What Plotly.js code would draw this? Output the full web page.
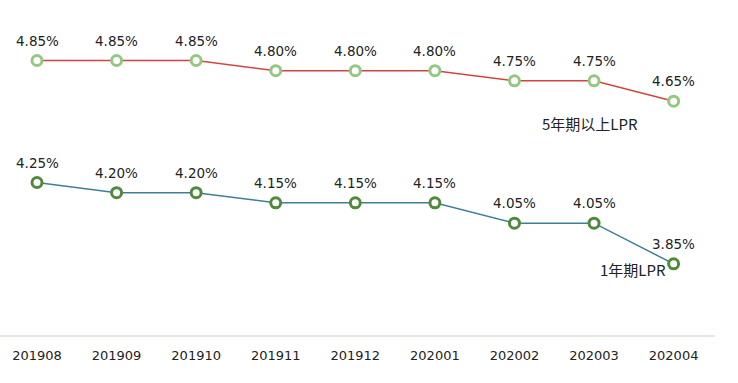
<!DOCTYPE html>
<html><head><meta charset="utf-8">
<script src="https://cdn.plot.ly/plotly-3.0.1.min.js"></script>
<style>html,body{margin:0;padding:0;background:#fff}#c{width:738px;height:383px}</style>
</head><body><div id="c"></div>
<script>
const months = ['201908','201909','201910','201911','201912','202001','202002','202003','202004'];
const lpr5y = [4.85,4.85,4.85,4.80,4.80,4.80,4.75,4.75,4.65];
const lpr1y = [4.25,4.20,4.20,4.15,4.15,4.15,4.05,4.05,3.85];
const name5y = '5年期以上LPR';
const name1y = '1年期LPR';
const fnt = 'DejaVu Sans, Noto Sans CJK SC, sans-serif';
const cjk = 'Noto Sans CJK SC, DejaVu Sans, sans-serif';
const idx = months.map((m,i)=>i);
const traces = [
  {x: idx, y: lpr5y, name: name5y, mode:'lines+markers', type:'scatter',
   line:{color:'#d0453f',width:1.5},
   marker:{size:10,color:'#ffffff',line:{color:'#93c882',width:3}}, cliponaxis:false},
  {x: idx, y: lpr1y, name: name1y, mode:'lines+markers', type:'scatter',
   line:{color:'#3d7f98',width:1.5},
   marker:{size:10,color:'#ffffff',line:{color:'#4f8a3c',width:3}}, cliponaxis:false}
];
const labelAnn = (arr) => arr.map((v,i)=>({x:i, y:v, xref:'x', yref:'y', text:v.toFixed(2)+'%',
  showarrow:false, yshift:20, font:{family:fnt,size:13.5,color:'#222'}}));
const layout = {
  width:738, height:383, margin:{l:0,r:23,t:30,b:48},
  paper_bgcolor:'#fff', plot_bgcolor:'#fff', showlegend:false,
  font:{family:fnt,size:13,color:'#222'},
  xaxis:{range:[-0.465,8.52], tickvals:idx, ticktext:months, showgrid:false, zeroline:false,
         showline:true, linecolor:'#e3eadf', linewidth:2, ticks:'', ticklabelstandoff:7,
         tickfont:{family:fnt,size:13,color:'#222'}},
  yaxis:{range:[3.5,5.0], visible:false, showgrid:false, zeroline:false},
  annotations:labelAnn(lpr5y).concat(labelAnn(lpr1y)).concat([
    {x:8, y:lpr5y[8], xref:'x', yref:'y', text:name5y, showarrow:false, xanchor:'right', yshift:-22, xshift:-34, font:{family:cjk,size:15,color:'#222'}},
    {x:8, y:lpr1y[8], xref:'x', yref:'y', text:name1y, showarrow:false, xanchor:'right', yshift:-6, xshift:-6, font:{family:cjk,size:15,color:'#222'}}
  ])
};
Plotly.newPlot('c', traces, layout, {displayModeBar:false, staticPlot:true});
</script></body></html>
